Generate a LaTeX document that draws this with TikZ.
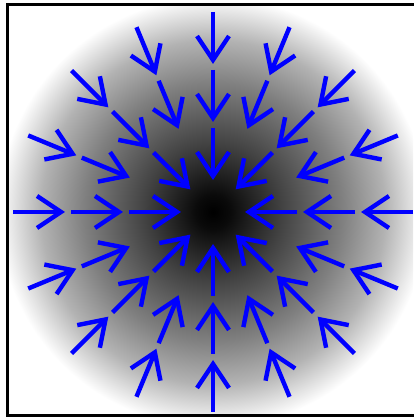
\documentclass[tikz,border=0pt]{standalone}
\usetikzlibrary{arrows.meta}
\pgfdeclareradialshading{glow}{\pgfpoint{0bp}{0bp}}{color(0bp)=(black); color(2bp)=(black!96); color(8bp)=(black!74); color(15bp)=(black!50); color(20bp)=(black!30); color(25bp)=(white); color(50bp)=(white)}
\begin{document}
\begin{tikzpicture}[x=1pt,y=1pt,
  arr/.style={draw={rgb,255:red,0;green,0;blue,255}, line width=4.4pt,
    -{Straight Barb[length=24pt,width=32pt,line cap=butt]}},
  frame/.style={draw=black, line width=3pt}]
\useasboundingbox (0,0) rectangle (413,419);
\fill[white] (0,0) rectangle (413,419);
\coordinate (C) at (213,207);
\begin{scope}
\clip (7,3) rectangle (413,414);
\shade[shading=glow] (C) circle (215pt);
\end{scope}
\foreach \a in {0,45,...,315} {
  \draw[arr] ([shift={(\a:200pt)}]C) -- ([shift={(\a:148pt)}]C);
  \draw[arr] ([shift={(\a:142pt)}]C) -- ([shift={(\a:90pt)}]C);
  \draw[arr] ([shift={(\a:84pt)}]C) -- ([shift={(\a:32pt)}]C);
}
\foreach \a in {22.5,67.5,...,337.5} {
  \draw[arr] ([shift={(\a:200pt)}]C) -- ([shift={(\a:148pt)}]C);
  \draw[arr] ([shift={(\a:142pt)}]C) -- ([shift={(\a:90pt)}]C);
}
\draw[frame] (7,3) rectangle (415,414);
\end{tikzpicture}
\end{document}
